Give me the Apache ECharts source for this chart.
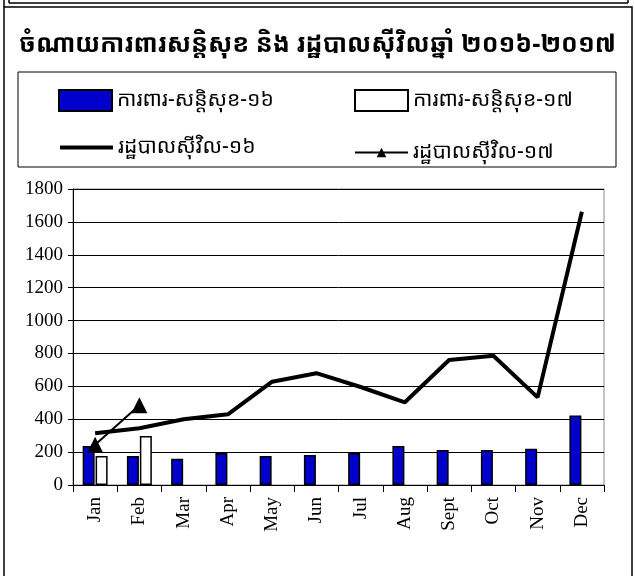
<!DOCTYPE html>
<html>
<head>
<meta charset="utf-8">
<script src="https://cdn.jsdelivr.net/npm/echarts@6/dist/echarts.min.js"></script>
<style>
  html, body { margin: 0; padding: 0; background: #fff; }
  #chart { width: 635px; height: 576px; }
</style>
</head>
<body>
<div id="chart"></div>
<script>
// chart data
const months = ['Jan', 'Feb', 'Mar', 'Apr', 'May', 'Jun', 'Jul', 'Aug', 'Sept', 'Oct', 'Nov', 'Dec'];
const defence16 = [237, 176, 160, 195, 176, 182, 195, 237, 213, 213, 221, 422];
const defence17 = [176, 298, null, null, null, null, null, null, null, null, null, null];
const civil16 = [315, 345, 400, 430, 628, 680, 596, 503, 760, 786, 533, 1662];
const civil17 = [245, 485, null, null, null, null, null, null, null, null, null, null];
const yTicks = { min: 0, max: 1800, step: 200 };

const titleText = 'ចំណាយការពារសន្តិសុខ និង រដ្ឋបាលស៊ីវិលឆ្នាំ ២០១៦-២០១៧';
const names = ['ការពារ-សន្តិសុខ-១៦', 'ការពារ-សន្តិសុខ-១៧', 'រដ្ឋបាលស៊ីវិល-១៦', 'រដ្ឋបាលស៊ីវិល-១៧'];

const khmerFont = '"Khmer OS", "Noto Sans Khmer", "Noto Serif Khmer", "Khmer OS System", "DejaVu Sans", sans-serif';
const serifFont = '"Liberation Serif", "DejaVu Serif", serif';

const chart = echarts.init(document.getElementById('chart'));

function legendAt(item, left, top, h, extra) {
  return Object.assign({
    data: [item],
    left: left,
    top: top,
    itemWidth: 53,
    itemHeight: h,
    itemGap: 8,
    selectedMode: false,
    textStyle: { fontFamily: khmerFont, fontSize: 21, color: '#000' }
  }, extra || {});
}

const option = {
  backgroundColor: '#fff',
  animation: false,
  title: {
    text: titleText,
    left: 'center',
    top: 27,
    textStyle: { fontFamily: khmerFont, fontSize: 25, fontWeight: 'bold', color: '#000' }
  },
  legend: [
    legendAt({ name: names[0], icon: 'rect' }, 53, 84, 21),
    legendAt({ name: names[1], icon: 'rect' }, 349, 84, 21),
    legendAt({ name: names[2], itemStyle: { opacity: 0 } }, 53, 132, 21, { lineStyle: { width: 4 } }),
    legendAt({ name: names[3] }, 349, 137, 12, { lineStyle: { width: 2 } })
  ],
  graphic: [
    // frame lines around the figure
    { type: 'line', shape: { x1: 9, y1: 3, x2: 628, y2: 3 }, style: { stroke: '#000', lineWidth: 1.5 } },
    { type: 'line', shape: { x1: 9, y1: 0, x2: 9, y2: 3 }, style: { stroke: '#000', lineWidth: 1.5 } },
    { type: 'line', shape: { x1: 628, y1: 0, x2: 628, y2: 3 }, style: { stroke: '#000', lineWidth: 1.5 } },
    { type: 'rect', shape: { x: 4, y: 7, width: 628, height: 600 }, style: { fill: 'none', stroke: '#000', lineWidth: 1.5 } },
    { type: 'line', shape: { x1: 4, y1: 0, x2: 4, y2: 7 }, style: { stroke: '#000', lineWidth: 1.5 } },
    // legend box
    { type: 'rect', shape: { x: 18, y: 72, width: 598, height: 95 }, style: { fill: 'none', stroke: '#000', lineWidth: 1 } }
  ],
  grid: {
    left: 73,
    right: 31,
    top: 189,
    bottom: 91,
    show: true,
    borderColor: '#8a8a8a',
    borderWidth: 1
  },
  xAxis: {
    type: 'category',
    data: months,
    axisLine: { lineStyle: { color: '#000', width: 1 } },
    axisTick: { show: true, alignWithLabel: false, length: 7, lineStyle: { color: '#000' } },
    axisLabel: {
      rotate: 90,
      margin: 12,
      interval: 0,
      fontFamily: serifFont,
      fontSize: 19,
      color: '#000'
    },
    splitLine: { show: false }
  },
  yAxis: {
    type: 'value',
    min: yTicks.min,
    max: yTicks.max,
    interval: yTicks.step,
    axisLine: { show: true, lineStyle: { color: '#000', width: 1 } },
    axisTick: { show: true, length: 5, lineStyle: { color: '#000' } },
    axisLabel: {
      fontFamily: serifFont,
      fontSize: 19,
      color: '#000',
      margin: 10,
      formatter: (v) => String(v)
    },
    splitLine: { show: true, lineStyle: { color: '#000', width: 1 } }
  },
  series: [
    {
      name: names[0],
      type: 'bar',
      data: defence16,
      barWidth: 12,
      barGap: '8%',
      itemStyle: { color: '#0000CC', borderColor: '#000', borderWidth: 1.5 }
    },
    {
      name: names[1],
      type: 'bar',
      data: defence17,
      barWidth: 12,
      barGap: '8%',
      itemStyle: { color: '#fff', borderColor: '#000', borderWidth: 1.5 }
    },
    {
      name: names[2],
      type: 'line',
      data: civil16,
      symbol: 'none',
      lineStyle: { color: '#000', width: 4 },
      itemStyle: { color: '#000' },
      z: 3
    },
    {
      name: names[3],
      type: 'line',
      data: civil17,
      symbol: 'triangle',
      symbolSize: 16,
      showSymbol: true,
      lineStyle: { color: '#000', width: 2 },
      itemStyle: { color: '#000' },
      z: 4
    }
  ]
};

chart.setOption(option);
</script>
</body>
</html>
